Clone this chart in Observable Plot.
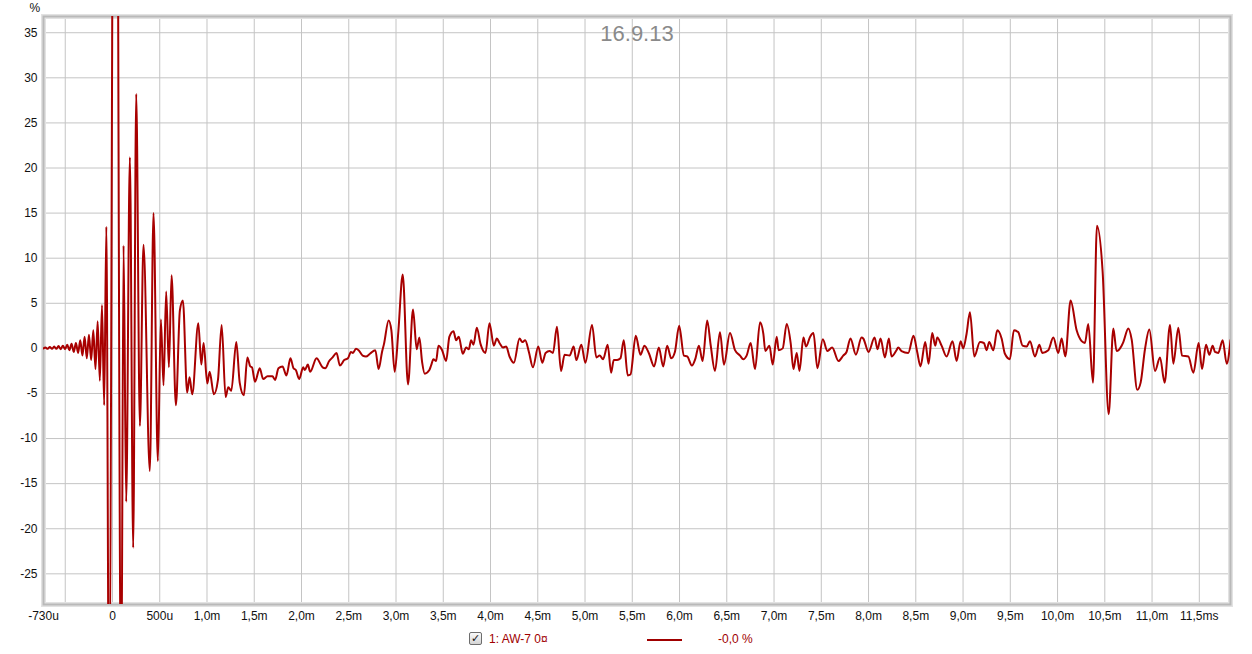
<!DOCTYPE html>
<html>
<head>
<meta charset="utf-8">
<script src="https://cdn.jsdelivr.net/npm/d3@7"></script>
<script src="https://cdn.jsdelivr.net/npm/@observablehq/plot@0.6"></script>
<style>
  html, body { margin: 0; padding: 0; background: #fff; }
  body { width: 1252px; height: 654px; position: relative; overflow: hidden; font-family: "Liberation Sans", Arial, sans-serif; }
  #chart { position: absolute; left: 0; top: 0; }
  #legend { position: absolute; left: 0; top: 622px; width: 1252px; height: 32px; font-size: 12px; }
  #legend .box { position: absolute; left: 469px; top: 10px; width: 11px; height: 11px; border: 1px solid #6d6d6d; border-radius: 2px; background: linear-gradient(#fafafa, #d4d4d4); font-size: 11px; line-height: 11px; text-align: center; color: #111; font-family: "DejaVu Sans", sans-serif; }
  #legend .name { position: absolute; left: 489px; top: 10px; color: #a00000; }
  #legend .swatch { position: absolute; left: 647px; top: 17px; width: 35px; height: 2px; background: #a00000; }
  #legend .val { position: absolute; left: 718px; top: 10px; color: #a00000; }
</style>
</head>
<body>
<div id="chart"></div>
<div id="legend">
  <span class="box">✓</span>
  <span class="name">1: AW-7 0¤</span>
  <span class="swatch"></span>
  <span class="val">-0,0 %</span>
</div>
<script>
// ---- Data (time in ms, amplitude in %) ----
const title = "16.9.13";
const seriesName = "1: AW-7 0¤";
const seriesReadout = "-0,0 %";

const times = [
  -0.730, -0.709, -0.686, -0.663, -0.640, -0.617, -0.594, -0.571, -0.548, -0.525,
  -0.502, -0.479, -0.456, -0.433, -0.410, -0.387, -0.364, -0.341, -0.318, -0.295,
  -0.272, -0.249, -0.226, -0.203, -0.180, -0.157, -0.134, -0.111, -0.088, -0.065,
  -0.037, 0.030, 0.092, 0.117, 0.145, 0.184, 0.219, 0.251, 0.290, 0.328,
  0.395, 0.434, 0.480, 0.512, 0.540, 0.568, 0.597, 0.625, 0.671, 0.713,
  0.745, 0.790, 0.815, 0.844, 0.908, 0.940, 0.964, 1.003, 1.028, 1.073,
  1.116, 1.155, 1.197, 1.225, 1.257, 1.310, 1.346, 1.390, 1.427, 1.458,
  1.476, 1.508, 1.558, 1.594, 1.640, 1.693, 1.721, 1.756, 1.799, 1.841,
  1.883, 1.915, 1.940, 1.975, 2.018, 2.035, 2.067, 2.092, 2.159, 2.223,
  2.251, 2.293, 2.329, 2.371, 2.406, 2.452, 2.491, 2.523, 2.544, 2.576,
  2.604, 2.647, 2.682, 2.724, 2.781, 2.816, 2.852, 2.873, 2.922, 2.951,
  2.986, 3.025, 3.071, 3.127, 3.180, 3.219, 3.247, 3.276, 3.304, 3.353,
  3.371, 3.396, 3.424, 3.449, 3.488, 3.530, 3.565, 3.608, 3.636, 3.664,
  3.707, 3.742, 3.770, 3.795, 3.820, 3.855, 3.894, 3.947, 3.989, 4.035,
  4.067, 4.095, 4.131, 4.166, 4.201, 4.247, 4.307, 4.336, 4.367, 4.406,
  4.449, 4.505, 4.548, 4.583, 4.625, 4.661, 4.703, 4.746, 4.784, 4.837,
  4.880, 4.908, 4.961, 5.004, 5.074, 5.120, 5.155, 5.191, 5.240, 5.276,
  5.304, 5.339, 5.375, 5.410, 5.452, 5.481, 5.537, 5.587, 5.629, 5.678,
  5.731, 5.781, 5.827, 5.869, 5.912, 5.951, 5.996, 6.046, 6.081, 6.131,
  6.166, 6.205, 6.244, 6.293, 6.329, 6.375, 6.428, 6.470, 6.534, 6.587,
  6.640, 6.675, 6.710, 6.753, 6.799, 6.852, 6.887, 6.908, 6.951, 6.986,
  7.028, 7.049, 7.092, 7.134, 7.177, 7.205, 7.240, 7.269, 7.311, 7.339,
  7.382, 7.417, 7.459, 7.516, 7.565, 7.615, 7.682, 7.732, 7.767, 7.809,
  7.866, 7.926, 7.944, 8.000, 8.064, 8.095, 8.127, 8.173, 8.215, 8.243,
  8.296, 8.314, 8.349, 8.420, 8.476, 8.515, 8.550, 8.600, 8.635, 8.674,
  8.706, 8.727, 8.773, 8.826, 8.889, 8.932, 8.974, 9.002, 9.037, 9.073,
  9.119, 9.179, 9.221, 9.249, 9.277, 9.320, 9.362, 9.408, 9.443, 9.496,
  9.538, 9.584, 9.630, 9.673, 9.708, 9.761, 9.807, 9.838, 9.902, 9.955,
  10.008, 10.043, 10.082, 10.138, 10.202, 10.255, 10.290, 10.325, 10.375, 10.417,
  10.477, 10.541, 10.590, 10.625, 10.678, 10.696, 10.749, 10.784, 10.844, 10.879,
  10.925, 10.971, 11.031, 11.084, 11.133, 11.190, 11.225, 11.278, 11.317, 11.384,
  11.437, 11.493, 11.529, 11.571, 11.606, 11.641, 11.666, 11.701, 11.747, 11.790,
  11.830
];

const values = [
  0.0, 0.1, -0.05, 0.15, -0.05, 0.2, -0.05, 0.25, -0.1, 0.3,
  -0.1, 0.4, -0.2, 0.5, -0.4, 0.6, -0.5, 0.9, -0.8, 1.3,
  -1.1, 1.5, -1.3, 2.0, -2.3, 3.0, -3.6, 4.8, -6.3, 13.5,
  -42, 110, -42, 11.4, -17.0, 21.2, -22.1, 28.2, -8.6, 11.5,
  -13.6, 15.0, -12.5, 3.2, -4.1, 6.3, -2.1, 8.1, -6.3, 4.2,
  5.3, -4.9, -3.2, -5.1, 2.8, -1.8, 0.6, -3.9, -2.6, -5.1,
  -3.5, 2.6, -5.4, -4.3, -4.7, 0.7, -3.8, -5.2, -1.0, -2.0,
  -2.1, -3.7, -2.2, -3.4, -3.1, -3.1, -3.5, -2.2, -2.0, -3.0,
  -1.1, -2.2, -2.4, -3.4, -2.1, -2.4, -1.8, -2.6, -1.1, -2.1,
  -2.2, -1.4, -1.0, -0.5, -1.9, -1.3, -1.1, -0.4, -0.5, -0.05,
  -0.2, -0.8, -0.9, -0.6, -0.2, -2.3, -0.4, 0.5, 3.1, 2.0,
  -2.6, 1.9, 8.2, -4.0, 4.3, -0.1, 1.2, -1.5, -2.8, -2.4,
  -1.9, -1.2, -1.4, 0.3, -0.2, -1.4, 1.3, 1.9, 0.9, 1.3,
  -0.6, 0.1, -0.1, 0.9, 0.4, 2.3, 0.5, -0.5, 2.8, 0.3,
  1.1, 0.6, 0.1, 0.2, -0.9, -1.6, 1.1, 0.7, 0.9, -0.4,
  -2.1, 0.2, -1.6, -0.5, -0.3, -0.5, 2.4, -2.5, -0.7, -0.8,
  0.2, -1.3, 0.4, -1.6, 2.6, -1.0, -0.8, -1.2, 0.4, -2.7,
  -1.3, -1.3, -1.1, 0.9, -3.0, -2.9, 1.4, -0.7, 0.3, -0.6,
  -2.0, 0.1, -2.0, 0.3, -1.1, -0.4, 2.5, -0.8, -0.9, -1.9,
  -1.2, 0.3, -1.4, 3.1, 0.4, -2.5, 1.8, -1.8, 1.7, -0.2,
  -0.8, -1.2, -0.8, 0.6, -2.3, 2.9, 1.6, -0.3, 0.3, -1.8,
  1.3, -0.2, 0.0, 2.7, 0.5, -2.3, -0.5, -2.5, 1.2, 0.2,
  1.3, 1.7, -2.2, 1.0, -0.3, 0.1, -1.4, -0.8, -0.4, 1.1,
  -0.7, 1.2, 1.1, -0.4, 1.2, -0.1, 1.1, -1.0, 1.1, -0.9,
  -0.2, 0.1, -0.3, -0.5, 1.4, -0.4, -2.0, 0.7, -1.7, 1.7,
  0.3, 1.2, 0.3, -0.9, 0.8, -1.4, 0.8, 0.0, 1.6, 4.0,
  -0.9, 0.7, 0.6, -0.2, 0.7, -0.2, 2.0, 1.1, -0.6, -1.2,
  2.0, 1.8, 0.3, 0.2, 0.8, -0.9, 0.4, -0.5, -0.2, 1.2,
  -0.5, 1.1, -0.9, 5.3, 2.0, 0.8, 0.6, 2.7, -3.8, 13.6,
  8.5, -7.3, 2.2, -0.3, 0.3, 0.7, 2.2, 1.0, -4.6, -3.8,
  -0.1, 2.1, -2.5, -1.0, -3.8, 2.6, -1.7, 2.3, -0.8, -0.9,
  -2.7, 0.6, -2.3, 0.4, -0.7, 0.3, -0.4, -0.5, 0.9, -1.7,
  0.9
];

const xDomain = [-0.73, 11.83];
const yDomain = [-28.4, 36.8];
const xLabelTicks = [-0.73, 0, 0.5, 1, 1.5, 2, 2.5, 3, 3.5, 4, 4.5, 5, 5.5, 6, 6.5, 7, 7.5, 8, 8.5, 9, 9.5, 10, 10.5, 11, 11.5];
const xGridTicks = [-0.5, 0, 0.5, 1, 1.5, 2, 2.5, 3, 3.5, 4, 4.5, 5, 5.5, 6, 6.5, 7, 7.5, 8, 8.5, 9, 9.5, 10, 10.5, 11, 11.5];
const yTicks = [35, 30, 25, 20, 15, 10, 5, 0, -5, -10, -15, -20, -25];

const data = times.map((t, i) => ({t, v: values[i]}));

function fmtX(t) {
  if (Math.abs(t + 0.73) < 1e-9) return "-730u";
  if (t === 0) return "0";
  if (t === 0.5) return "500u";
  const s = t.toFixed(1).replace(".", ",");
  return t === 11.5 ? s + "ms" : s + "m";
}

const chart = Plot.plot({
  width: 1252,
  height: 622,
  marginLeft: 43,
  marginRight: 22,
  marginTop: 16,
  marginBottom: 18,
  style: {fontFamily: "'Liberation Sans', Arial, sans-serif", fontSize: "12px", color: "#111", background: "#fff", overflow: "visible"},
  x: {domain: xDomain, axis: null},
  y: {domain: yDomain, axis: null},
  marks: [
    Plot.gridX(xGridTicks, {stroke: "#c4c4c4", strokeOpacity: 1, strokeWidth: 1}),
    Plot.gridY(yTicks, {stroke: "#c4c4c4", strokeOpacity: 1, strokeWidth: 1}),
    Plot.frame({stroke: "#e2e2e2", strokeWidth: 5}),
    Plot.frame({stroke: "#b9b9b9", strokeWidth: 2}),
    Plot.line(data, {x: "t", y: "v", stroke: "#a80000", strokeWidth: 2, clip: true, curve: "monotone-x", strokeLinejoin: "round"}),
    Plot.axisX(xLabelTicks, {tickSize: 0, tickPadding: 7, tickFormat: fmtX, fontSize: 12, fill: "#111", label: null}),
    Plot.axisY(yTicks, {tickSize: 0, tickPadding: 6, tickFormat: d => String(d), fontSize: 12, fill: "#111", label: null}),
    Plot.text(["%"], {frameAnchor: "top-left", dx: -14, dy: -13, fontSize: 12, fill: "#111"}),
    Plot.text([title], {frameAnchor: "top", lineAnchor: "middle", dy: 17, fontSize: 22, fill: "#8a8a8a"})
  ]
});
document.getElementById("chart").appendChild(chart);
</script>
</body>
</html>
